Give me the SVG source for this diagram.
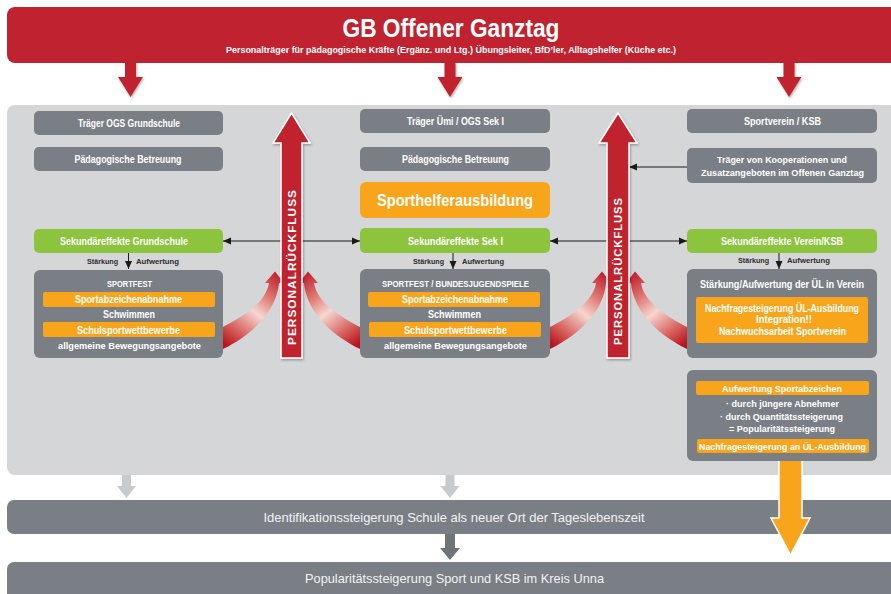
<svg xmlns="http://www.w3.org/2000/svg" width="891" height="594" viewBox="0 0 891 594">
<style>
text{font-family:"Liberation Sans",Arial,sans-serif;font-weight:bold;text-anchor:middle;fill:#fff}
.b{font-size:10px}
.s{font-size:9.6px}
.lbl{font-size:8px;fill:#2b2b2b;text-anchor:start}
.gray{fill:#7a7f86}
.green{fill:#8cc43d}
.orange{fill:#f8a51c}
.red{fill:#c0232f}
.bar{font-size:13px;font-weight:normal;fill:#f2f2f2}
.pr{font-size:11.5px;letter-spacing:1px}
.line{stroke:#1a1a1a;stroke-width:1;fill:none;marker-end:url(#ah)}
</style>
<defs>
<marker id="ah" markerUnits="userSpaceOnUse" markerWidth="8" markerHeight="8" refX="8" refY="4" orient="auto">
<path d="M0,0.5 L8,4 L0,7.5 z" fill="#1a1a1a"/>
</marker>
<linearGradient id="cg" gradientUnits="userSpaceOnUse" x1="223" y1="342" x2="276" y2="274">
<stop offset="0" stop-color="#b9151f"/>
<stop offset="0.2" stop-color="#d65f5c"/>
<stop offset="0.5" stop-color="#f6d6d0"/>
<stop offset="0.75" stop-color="#de7470"/>
<stop offset="1" stop-color="#c0232f"/>
</linearGradient>
<path id="curve" d="M223,327 C244,316 266,302 269,283 L265,283 L275,271.5 L284,283 L279,283 C277,308 256,333 223,349 Z" fill="url(#cg)"/>
<filter id="sh" x="-20%" y="-10%" width="140%" height="130%">
<feDropShadow dx="1" dy="1.5" stdDeviation="1.2" flood-color="#000" flood-opacity="0.3"/>
</filter>
</defs>

<!-- background panel and bars -->
<g id="panel">
<rect x="7" y="105" width="894" height="370" rx="8" fill="#d5d6d8"/>
</g>
<g id="banner">
<rect x="7" y="7" width="894" height="56" rx="8" class="red"/>
<text x="451" y="37" style="font-size:26px" textLength="217" lengthAdjust="spacingAndGlyphs">GB Offener Ganztag</text>
<text x="451" y="53" style="font-size:8.5px" textLength="450" lengthAdjust="spacingAndGlyphs">Personalträger für pädagogische Kräfte (Ergänz. und Ltg.) Übungsleiter, BfD’ler, Alltagshelfer (Küche etc.)</text>
</g>
<g id="bar-identifikation">
<rect x="7" y="500" width="894" height="34" rx="7" class="gray"/>
<text x="454" y="522" class="bar" textLength="381" lengthAdjust="spacingAndGlyphs">Identifikationssteigerung Schule als neuer Ort der Tageslebenszeit</text>
</g>
<g id="bar-popularitaet">
<rect x="7" y="562" width="894" height="40" rx="7" class="gray"/>
<text x="454.5" y="583" class="bar" textLength="299" lengthAdjust="spacingAndGlyphs">Popularitätssteigerung Sport und KSB im Kreis Unna</text>
</g>

<!-- connectors -->
<g id="connectors">
<g filter="url(#sh)" class="red">
<path d="M125,62 V77 H118 L130.5,97 L143,77 H136 V62 Z"/>
<path d="M444.5,62 V77 H437.5 L450,97 L462.5,77 H455.5 V62 Z"/>
<path d="M783.5,62 V77 H776.5 L789,97 L801.5,77 H794.5 V62 Z"/>
</g>
<path d="M122,475 V486 H117 L126.5,498 L136,486 H131 V475 Z" fill="#c9cacc"/>
<path d="M445.5,475 V486 H440.5 L450,498 L459.5,486 H454.5 V475 Z" fill="#c9cacc"/>
<path d="M445,534 V548 H440 L450,560 L460,548 H455 V534 Z" fill="#6f747b"/>
<path d="M779,458 V518 H771 L790.5,555 L810,518 H802 V458 Z" fill="#f8a51c" stroke="#fff" stroke-width="1.5" stroke-linejoin="miter"/>
<path class="line" d="M281,241 H223"/>
<path class="line" d="M302,241 H360"/>
<path class="line" d="M607,241 H550"/>
<path class="line" d="M629,241 H687"/>
<path class="line" d="M687,167 H629"/>
<path class="line" d="M128.5,253 V269"/>
<path class="line" d="M453,253 V269"/>
<path class="line" d="M779,253 V269"/>
<use href="#curve"/>
<use href="#curve" transform="translate(583,0) scale(-1,1)"/>
<use href="#curve" transform="translate(327,0)"/>
<use href="#curve" transform="translate(1237,0) scale(-1,1) translate(327,0)"/>
</g>

<!-- Personalrückfluss arrows -->
<g id="personalrueckfluss-1">
<path d="M281,358 V143 H273 L291.5,113 L310,143 H302 V358 Z" class="red" stroke="#fff" stroke-width="1.5" filter="url(#sh)"/>
<text transform="translate(296,267) rotate(-90)" class="pr" textLength="156" lengthAdjust="spacingAndGlyphs">PERSONALRÜCKFLUSS</text>
</g>
<g id="personalrueckfluss-2">
<path d="M607,358 V143 H599 L618,113 L637,143 H629 V358 Z" class="red" stroke="#fff" stroke-width="1.5" filter="url(#sh)"/>
<text transform="translate(622,271) rotate(-90)" class="pr" textLength="148" lengthAdjust="spacingAndGlyphs">PERSONALRÜCKFLUSS</text>
</g>

<!-- left column -->
<g id="traeger-ogs-grundschule">
<rect x="34" y="111" width="189" height="24" rx="5" class="gray"/>
<text x="129" y="126.5" class="b" textLength="102" lengthAdjust="spacingAndGlyphs">Träger OGS Grundschule</text>
</g>
<g id="paed-betreuung-1">
<rect x="34" y="147" width="189" height="24" rx="5" class="gray"/>
<text x="128" y="162.5" class="b" textLength="107" lengthAdjust="spacingAndGlyphs">Pädagogische Betreuung</text>
</g>
<g id="sek-grundschule">
<rect x="34" y="229" width="189" height="24" rx="5" class="green"/>
<text x="124" y="245" class="b" textLength="128" lengthAdjust="spacingAndGlyphs">Sekundäreffekte Grundschule</text>
<text x="87" y="264" class="lbl" textLength="31" lengthAdjust="spacingAndGlyphs">Stärkung</text>
<text x="136" y="264" class="lbl" textLength="43" lengthAdjust="spacingAndGlyphs">Aufwertung</text>
</g>
<g id="sportfest-grundschule">
<rect x="34" y="270" width="189" height="88" rx="6" class="gray"/>
<text x="129.5" y="287" class="s" textLength="45" lengthAdjust="spacingAndGlyphs">SPORTFEST</text>
<rect x="43" y="292" width="172" height="15" rx="2" class="orange"/>
<text x="128.5" y="303" class="b" textLength="107" lengthAdjust="spacingAndGlyphs">Sportabzeichenabnahme</text>
<text x="129" y="318" class="b" textLength="52" lengthAdjust="spacingAndGlyphs">Schwimmen</text>
<rect x="43" y="322" width="172" height="15" rx="2" class="orange"/>
<text x="128.5" y="333.5" class="b" textLength="103" lengthAdjust="spacingAndGlyphs">Schulsportwettbewerbe</text>
<text x="129.5" y="348.5" class="s" textLength="143" lengthAdjust="spacingAndGlyphs">allgemeine Bewegungsangebote</text>
</g>

<!-- middle column -->
<g id="traeger-uemi">
<rect x="360" y="109" width="190" height="24" rx="5" class="gray"/>
<text x="455.5" y="124.5" class="b" textLength="97" lengthAdjust="spacingAndGlyphs">Träger Ümi / OGS Sek I</text>
</g>
<g id="paed-betreuung-2">
<rect x="360" y="147" width="190" height="24" rx="5" class="gray"/>
<text x="455.5" y="163" class="b" textLength="107" lengthAdjust="spacingAndGlyphs">Pädagogische Betreuung</text>
</g>
<g id="sporthelferausbildung">
<rect x="360" y="182" width="190" height="36" rx="6" class="orange"/>
<text x="455" y="206" style="font-size:16.5px" textLength="156" lengthAdjust="spacingAndGlyphs">Sporthelferausbildung</text>
</g>
<g id="sek-sek1">
<rect x="360" y="228" width="190" height="25" rx="5" class="green"/>
<text x="455.5" y="245" class="b" textLength="95" lengthAdjust="spacingAndGlyphs">Sekundäreffekte Sek I</text>
<text x="413" y="263.5" class="lbl" textLength="31" lengthAdjust="spacingAndGlyphs">Stärkung</text>
<text x="462" y="263.5" class="lbl" textLength="42" lengthAdjust="spacingAndGlyphs">Aufwertung</text>
</g>
<g id="sportfest-sek1">
<rect x="360" y="269" width="190" height="89" rx="6" class="gray"/>
<text x="455.5" y="287" class="s" textLength="147" lengthAdjust="spacingAndGlyphs">SPORTFEST / BUNDESJUGENDSPIELE</text>
<rect x="368" y="292" width="172" height="15" rx="2" class="orange"/>
<text x="455" y="303" class="b" textLength="106" lengthAdjust="spacingAndGlyphs">Sportabzeichenabnahme</text>
<text x="454.5" y="318" class="b" textLength="53" lengthAdjust="spacingAndGlyphs">Schwimmen</text>
<rect x="369" y="322" width="172" height="15" rx="2" class="orange"/>
<text x="455.5" y="333.5" class="b" textLength="103" lengthAdjust="spacingAndGlyphs">Schulsportwettbewerbe</text>
<text x="455.5" y="348.5" class="s" textLength="143" lengthAdjust="spacingAndGlyphs">allgemeine Bewegungsangebote</text>
</g>

<!-- right column -->
<g id="sportverein-ksb">
<rect x="687" y="109" width="190" height="24" rx="5" class="gray"/>
<text x="782.5" y="125" class="b" textLength="77" lengthAdjust="spacingAndGlyphs">Sportverein / KSB</text>
</g>
<g id="traeger-kooperationen">
<rect x="687" y="148" width="190" height="35" rx="5" class="gray"/>
<text x="782" y="163" class="s" textLength="130" lengthAdjust="spacingAndGlyphs">Träger von Kooperationen und</text>
<text x="782.5" y="175.5" class="s" textLength="163" lengthAdjust="spacingAndGlyphs">Zusatzangeboten im Offenen Ganztag</text>
</g>
<g id="sek-verein">
<rect x="687" y="229" width="190" height="24" rx="5" class="green"/>
<text x="782" y="245" class="b" textLength="122" lengthAdjust="spacingAndGlyphs">Sekundäreffekte Verein/KSB</text>
<text x="738" y="263" class="lbl" textLength="31" lengthAdjust="spacingAndGlyphs">Stärkung</text>
<text x="787" y="263" class="lbl" textLength="43" lengthAdjust="spacingAndGlyphs">Aufwertung</text>
</g>
<g id="staerkung-ul">
<rect x="687" y="269" width="190" height="89" rx="6" class="gray"/>
<text x="782" y="287.5" class="b" textLength="164" lengthAdjust="spacingAndGlyphs">Stärkung/Aufwertung der ÜL in Verein</text>
<rect x="696" y="297" width="172" height="46" rx="2" class="orange"/>
<text x="782" y="311.5" class="b" textLength="154" lengthAdjust="spacingAndGlyphs">Nachfragesteigerung ÜL-Ausbildung</text>
<text x="784" y="323" class="b" textLength="56" lengthAdjust="spacingAndGlyphs">Integration!!</text>
<text x="782.5" y="334.5" class="b" textLength="127" lengthAdjust="spacingAndGlyphs">Nachwuchsarbeit Sportverein</text>
</g>
<g id="aufwertung-sportabzeichen">
<rect x="687" y="370" width="190" height="91" rx="6" class="gray"/>
<rect x="696" y="381" width="173" height="14" rx="2" class="orange"/>
<text x="782" y="392" class="s" textLength="120" lengthAdjust="spacingAndGlyphs">Aufwertung Sportabzeichen</text>
<text x="782.5" y="407" class="s" textLength="113" lengthAdjust="spacingAndGlyphs">· durch jüngere Abnehmer</text>
<text x="781.5" y="419.5" class="s" textLength="123" lengthAdjust="spacingAndGlyphs">· durch Quantitätssteigerung</text>
<text x="782" y="432" class="s" textLength="106" lengthAdjust="spacingAndGlyphs">= Popularitätssteigerung</text>
<rect x="697" y="439" width="172" height="14" rx="2" class="orange"/>
<text x="782.5" y="449.5" class="s" textLength="167" lengthAdjust="spacingAndGlyphs">Nachfragesteigerung an ÜL-Ausbildung</text>
</g>
</svg>
